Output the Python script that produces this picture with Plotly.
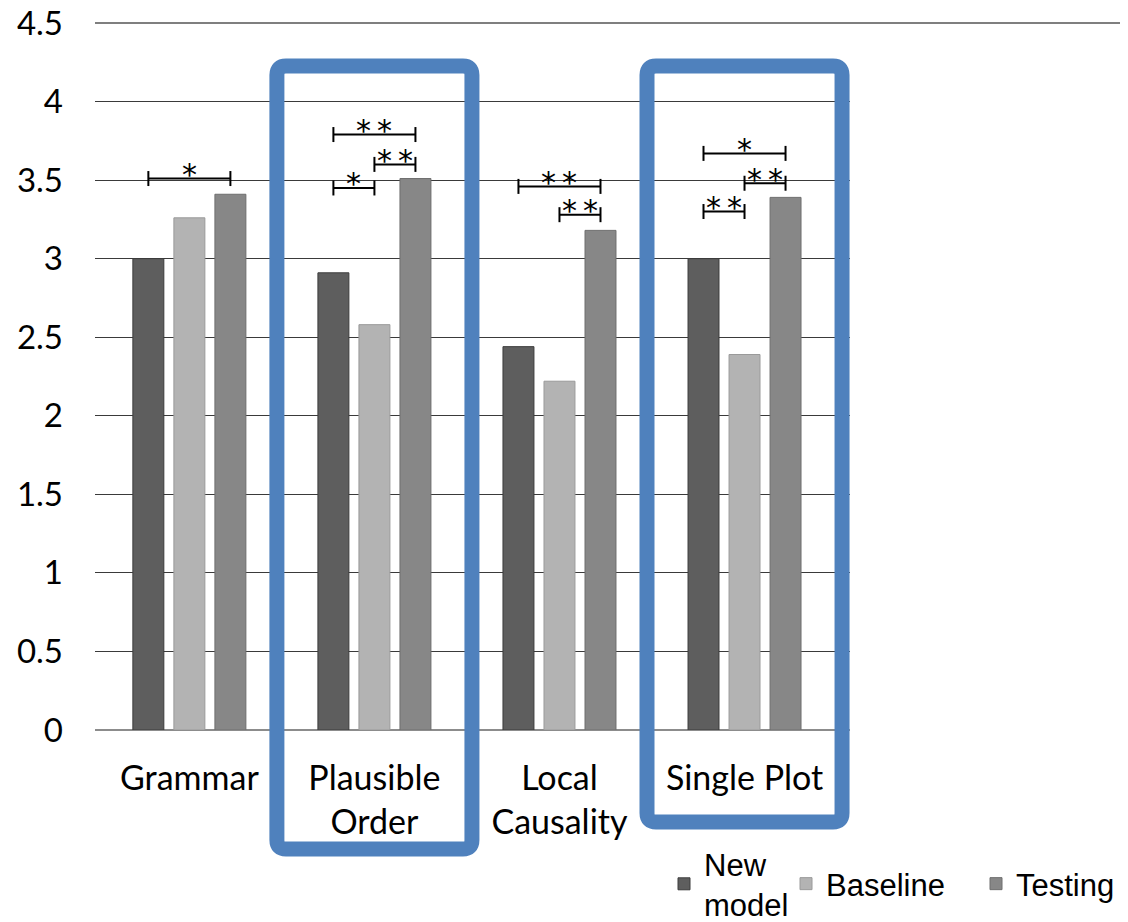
import plotly.graph_objects as go

# ---------------- data ----------------
categories = ["Grammar", "Plausible<br>Order", "Local<br>Causality", "Single Plot"]
series_names = ["New<br>model", "Baseline", "Testing"]
new_model = [3.00, 2.91, 2.44, 3.00]
baseline = [3.26, 2.58, 2.22, 2.39]
testing = [3.41, 3.51, 3.18, 3.39]
series_values = [new_model, baseline, testing]
y_ticks = [0, 0.5, 1, 1.5, 2, 2.5, 3, 3.5, 4, 4.5]
y_tick_labels = ["0", "0.5", "1", "1.5", "2", "2.5", "3", "3.5", "4", "4.5"]

# significance brackets: category index, from series, to series, level, label
sig_cat = [0, 1, 1, 1, 2, 2, 3, 3, 3]
sig_from = [0, 0, 1, 0, 0, 1, 0, 1, 0]
sig_to = [2, 1, 2, 2, 2, 2, 2, 2, 1]
sig_level = [3.51, 3.45, 3.60, 3.79, 3.46, 3.28, 3.67, 3.48, 3.30]
sig_label = ["*", "*", "**", "**", "**", "**", "*", "**", "**"]

# categories highlighted with a blue frame
highlight_cats = [1, 3]

# ---------------- style ----------------
W, H = 1128, 922
OFF = 8  # page body margin
PL, PR, PT, PB = 95, 850, 23, 730  # plot area in page pixels
ML, MT = PL - OFF, PT - OFF
MR, MB = W - (PR - OFF), H - (PB - OFF)
PW, PH = PR - PL, PB - PT
XR = [-0.51, 3.57]
YR = [0, 4.5]
BARGAP = 0.335
BARGROUPGAP = 0.245
colors = ["#5E5E5E", "#B3B3B3", "#878787"]
edge = ["#3C3C3C", "#9A9A9A", "#6E6E6E"]
AX_FONT = "Lato"
LEG_FONT = "Liberation Sans"
legend_ids = ["legend", "legend2", "legend3"]
legend_text_px = [704, 826, 1016]  # left of legend texts, page px

fig = go.Figure()
for name, vals, c, e, lg in zip(series_names, series_values, colors, edge, legend_ids):
    fig.add_trace(go.Bar(x=categories, y=vals, name=name, legend=lg,
                         marker=dict(color=c, line=dict(color=e, width=1))))

slot = (1 - BARGAP) / len(series_values)


def bar_x(cat, k):
    return cat + (k - (len(series_values) - 1) / 2) * slot


def x_paper(xd):
    return (xd - XR[0]) / (XR[1] - XR[0])


def px_x(px):
    return (px - PL) / PW


def px_y(py):
    return (PB - py) / PH


shapes = []
annotations = []

# significance brackets
tick_h = 7.5 / PH * (YR[1] - YR[0])
for c, a, b, lev, lab in zip(sig_cat, sig_from, sig_to, sig_level, sig_label):
    xa, xb = bar_x(c, a), bar_x(c, b)
    ln = dict(color="black", width=2)
    shapes.append(dict(type="line", xref="x", yref="y", x0=xa, x1=xb, y0=lev, y1=lev, line=ln))
    for xx in (xa, xb):
        shapes.append(dict(type="line", xref="x", yref="y", x0=xx, x1=xx,
                           y0=lev - tick_h, y1=lev + tick_h, line=ln))
    annotations.append(dict(x=(xa + xb) / 2, y=lev, xref="x", yref="y",
                            text=lab.replace("**", "*\u2009*"), showarrow=False,
                            yanchor="middle", yshift=4,
                            font=dict(family="DejaVu Sans", size=30, color="black")))

# highlight frames (rounded rectangles)
box_half = 0.527
box_top_px = 66
box_bottom_px = {1: 849, 3: 822}
r = 9
rx, ry = r / PW, r / PH
for c in highlight_cats:
    x0 = x_paper(c - box_half)
    x1 = x_paper(c + box_half)
    y1 = px_y(box_top_px)
    y0 = px_y(box_bottom_px[c])
    path = (f"M{x0 + rx},{y1} L{x1 - rx},{y1} Q{x1},{y1} {x1},{y1 - ry} "
            f"L{x1},{y0 + ry} Q{x1},{y0} {x1 - rx},{y0} "
            f"L{x0 + rx},{y0} Q{x0},{y0} {x0},{y0 + ry} "
            f"L{x0},{y1 - ry} Q{x0},{y1} {x0 + rx},{y1} Z")
    shapes.append(dict(type="path", xref="paper", yref="paper", path=path,
                       line=dict(color="#4F81BD", width=15), fillcolor="rgba(0,0,0,0)"))

# extended top gridline
shapes.append(dict(type="line", xref="paper", yref="paper", x0=0, x1=px_x(1128),
                   y0=1, y1=1, line=dict(color="#7F7F7F", width=2)))

legend_style = dict(orientation="h", xanchor="left", y=px_y(884), yanchor="middle",
                    font=dict(family=LEG_FONT, size=31, color="black"),
                    bgcolor="rgba(0,0,0,0)", borderwidth=0)

layout_legends = {}
for lg, tx in zip(legend_ids, legend_text_px):
    layout_legends[lg] = dict(legend_style, x=px_x(tx - 40))

fig.update_layout(
    width=W, height=H,
    margin=dict(l=ML, r=MR, t=MT, b=MB, autoexpand=False),
    paper_bgcolor="white", plot_bgcolor="white",
    barmode="group", bargap=BARGAP, bargroupgap=BARGROUPGAP,
    shapes=shapes, annotations=annotations,
    showlegend=True,
    xaxis=dict(type="category", range=XR, showgrid=False, showline=False, ticks="",
               automargin=False,
               tickfont=dict(family=AX_FONT, size=34, color="black"),
               ticklabelstandoff=25),
    yaxis=dict(range=YR, tickvals=y_ticks, ticktext=y_tick_labels,
               showgrid=True, gridcolor="#3A3A3A", gridwidth=1,
               zeroline=True, zerolinecolor="#8C8C8C", zerolinewidth=2,
               showline=False, ticks="", automargin=False,
               ticklabeloverflow="allow",
               tickfont=dict(family=AX_FONT, size=33, color="black"),
               ticklabelstandoff=31),
    **layout_legends,
)

fig.write_html("out.html")
